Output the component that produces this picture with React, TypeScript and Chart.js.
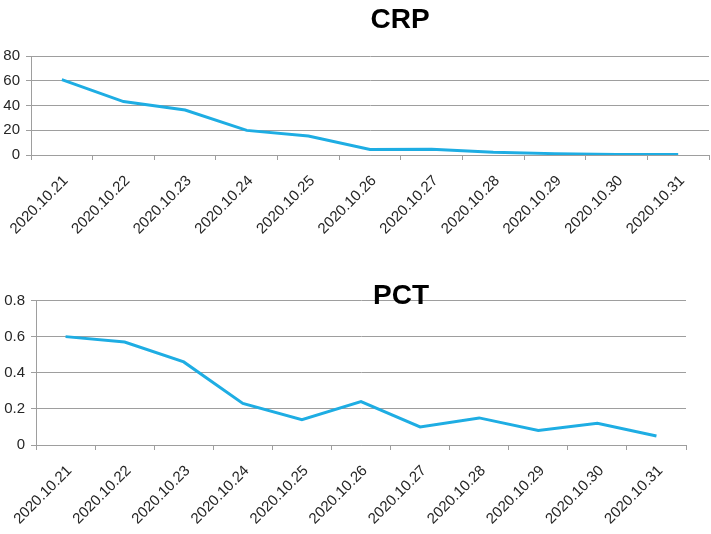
import React, { useEffect, useRef } from "react";
import { Chart, registerables } from "chart.js";

Chart.register(...registerables);

const categories = [
  "2020.10.21", "2020.10.22", "2020.10.23", "2020.10.24", "2020.10.25", "2020.10.26",
  "2020.10.27", "2020.10.28", "2020.10.29", "2020.10.30", "2020.10.31",
];
const crpValues = [60.9, 43.2, 36.3, 19.9, 15.3, 4.4, 4.6, 2.2, 1.1, 0.5, 0.5];
const pctValues = [0.6, 0.57, 0.46, 0.23, 0.14, 0.24, 0.1, 0.15, 0.08, 0.12, 0.05];
const crpTitle = "CRP";
const pctTitle = "PCT";
const crpAxis = { max: 80, step: 20 };
const pctAxis = { max: 0.8, step: 0.2 };

const FONT = "'Liberation Sans', Arial, sans-serif";
const GRID = "#9e9e9e";
const LINE = "#1EADE3";
const TEXT = "#262626";

type Cfg = {
  title: string;
  values: number[];
  axis: { max: number; step: number };
  width: number;
  height: number;
  padTop: number;
  padRight: number;
  yWidth: number;
  xHeight: number;
  titleX: number;
  titleY: number;
};

function LineChart(props: Cfg) {
  const ref = useRef<HTMLCanvasElement | null>(null);
  useEffect(() => {
    if (!ref.current) return;
    const titlePlugin = {
      id: "fixedTitle",
      afterDraw(chart: any) {
        const ctx = chart.ctx;
        ctx.save();
        ctx.font = `bold 28px ${FONT}`;
        ctx.fillStyle = "#000";
        ctx.textAlign = "center";
        ctx.textBaseline = "alphabetic";
        ctx.fillText(props.title, props.titleX, props.titleY);
        ctx.restore();
      },
    };
    const chart = new Chart(ref.current, {
      type: "line",
      data: {
        labels: categories,
        datasets: [
          {
            data: props.values,
            borderColor: LINE,
            backgroundColor: LINE,
            borderWidth: 3,
            pointRadius: 0,
            tension: 0,
            fill: false,
          },
        ],
      },
      options: {
        responsive: false,
        animation: false,
        devicePixelRatio: 1,
        layout: { padding: { top: props.padTop, right: props.padRight, left: 0, bottom: 0 } },
        plugins: { legend: { display: false }, tooltip: { enabled: false }, title: { display: false } },
        scales: {
          x: {
            type: "category",
            offset: true,
            grid: { display: true, drawOnChartArea: false, drawTicks: true, tickLength: 5, color: GRID, offset: true },
            border: { display: true, color: GRID, width: 1 },
            ticks: {
              color: TEXT,
              font: { family: FONT, size: 15 },
              maxRotation: 45,
              minRotation: 45,
              padding: 12,
              labelOffset: 4,
              autoSkip: false,
            },
            afterFit(scale: any) {
              scale.height = props.xHeight;
              scale.paddingLeft = 0;
              scale.paddingRight = 0;
            },
          },
          y: {
            min: 0,
            max: props.axis.max,
            grid: { color: GRID, tickLength: 5, drawTicks: true },
            border: { display: true, color: GRID, width: 1 },
            ticks: {
              stepSize: props.axis.step,
              color: TEXT,
              font: { family: FONT, size: 15 },
              padding: 6,
            },
            afterFit(scale: any) {
              scale.width = props.yWidth;
              scale.paddingTop = 0;
              scale.paddingBottom = 0;
            },
          },
        },
      },
      plugins: [titlePlugin],
    } as any);
    return () => chart.destroy();
  }, []);
  return (
    <canvas
      ref={ref}
      width={props.width}
      height={props.height}
      style={{ display: "block", width: props.width, height: props.height }}
    />
  );
}

export default function App() {
  return (
    <div style={{ position: "absolute", left: 0, top: 0, width: 711, height: 534, background: "#fff" }}>
      <div style={{ position: "absolute", left: 0, top: 0 }}>
        <LineChart
          title={crpTitle}
          values={crpValues}
          axis={crpAxis}
          width={711}
          height={270}
          padTop={56}
          padRight={2}
          yWidth={31}
          xHeight={115}
          titleX={400}
          titleY={28}
        />
      </div>
      <div style={{ position: "absolute", left: 0, top: 270 }}>
        <LineChart
          title={pctTitle}
          values={pctValues}
          axis={pctAxis}
          width={711}
          height={264}
          padTop={30.5}
          padRight={25}
          yWidth={36}
          xHeight={89}
          titleX={401}
          titleY={33.5}
        />
      </div>
    </div>
  );
}
